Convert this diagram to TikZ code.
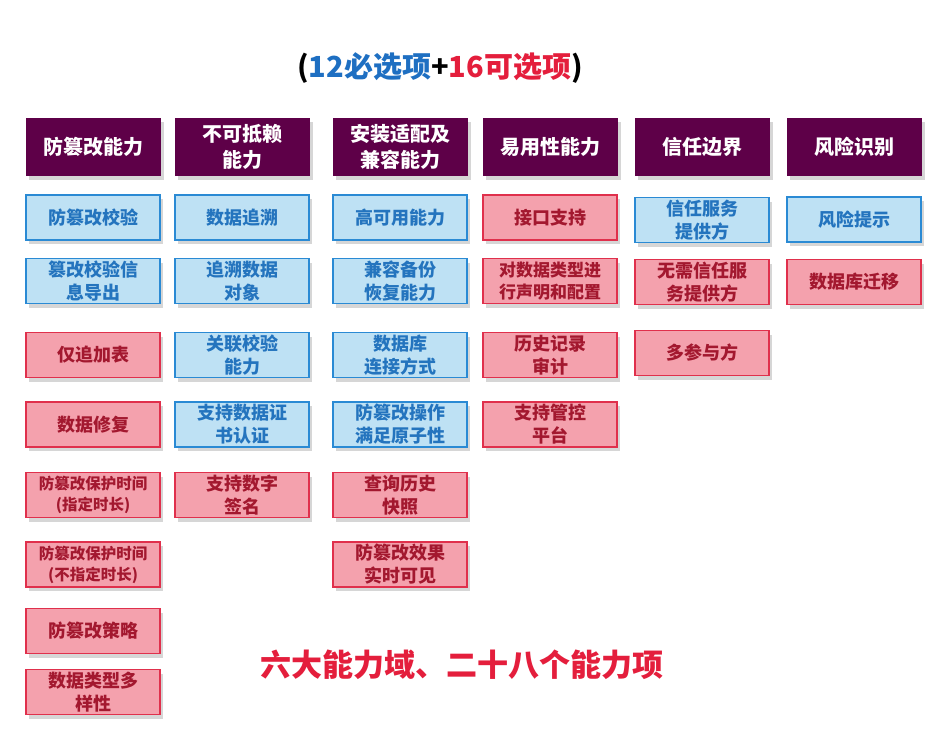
\documentclass[tikz,border=0pt]{standalone}
\usepackage{fontspec}
\setmainfont{Noto Sans CJK SC}
\usetikzlibrary{shadows}
\definecolor{hdr}{HTML}{5E0048}
\definecolor{bfill}{HTML}{BEE1F4}
\definecolor{bdraw}{HTML}{2A8AD4}
\definecolor{btext}{HTML}{2474BE}
\definecolor{rfill}{HTML}{F4A1AD}
\definecolor{rdraw}{HTML}{E0304C}
\definecolor{rtext}{HTML}{A3182F}
\definecolor{tblue}{HTML}{1E6FC2}
\definecolor{tred}{HTML}{E41E3C}
\tikzset{
  shd/.style={drop shadow={shadow xshift=3pt,shadow yshift=-4pt,fill=black!40,opacity=.4}},
  hdrbox/.style={shd,fill=hdr,draw=none,minimum width=135pt,minimum height=58pt,inner sep=1pt,
    text=white,align=center,font=\bfseries\fontsize{20}{26}\selectfont},
  bluebox/.style={shd,fill=bfill,draw=bdraw,line width=1.2pt,minimum width=134pt,minimum height=45pt,inner sep=1pt,
    text=btext,align=center,font=\bfseries\fontsize{18}{23}\selectfont},
  redbox/.style={shd,fill=rfill,draw=rdraw,line width=1.2pt,minimum width=134pt,minimum height=45pt,inner sep=1pt,
    text=rtext,align=center,font=\bfseries\fontsize{18}{23}\selectfont},
  small/.style={font=\bfseries\fontsize{15.5}{21}\selectfont},
  smallb/.style={font=\bfseries\fontsize{17}{22}\selectfont}
}
\begin{document}
\begin{tikzpicture}[x=1pt,y=1pt]
\useasboundingbox[fill=white] (0,0) rectangle (945,-733);
% title
\node[font=\bfseries\fontsize{29}{30}\selectfont,inner sep=0] (title) at (440,-68)
  {(\textcolor{tblue}{12必选项}+\textcolor{tred}{16可选项})};
% headers
\node[hdrbox] (h1) at (93,-147) {防篡改能力};
\node[hdrbox] (h2) at (242,-147) {不可抵赖\\能力};
\node[hdrbox] (h3) at (400,-147) {安装适配及\\兼容能力};
\node[hdrbox] (h4) at (550,-147) {易用性能力};
\node[hdrbox] (h5) at (702,-147) {信任边界};
\node[hdrbox] (h6) at (854,-147) {风险识别};
% column 1
\node[bluebox] (a1) at (93,-217.5) {防篡改校验};
\node[bluebox] (a2) at (93,-281) {篡改校验信\\息导出};
\node[redbox] (a3) at (93,-355) {仅追加表};
\node[redbox] (a4) at (93,-424.5) {数据修复};
\node[redbox,small] (a5) at (93,-495) {防篡改保护时间\\(指定时长)};
\node[redbox,small] (a6) at (93,-564.5) {防篡改保护时间\\(不指定时长)};
\node[redbox] (a7) at (93,-631) {防篡改策略};
\node[redbox] (a8) at (93,-692) {数据类型多\\样性};
% column 2
\node[bluebox] (b1) at (242,-217.5) {数据追溯};
\node[bluebox] (b2) at (242,-281) {追溯数据\\对象};
\node[bluebox] (b3) at (242,-355) {关联校验\\能力};
\node[bluebox] (b4) at (242,-424.5) {支持数据证\\书认证};
\node[redbox] (b5) at (242,-495) {支持数字\\签名};
% column 3
\node[bluebox] (c1) at (400,-217.5) {高可用能力};
\node[bluebox] (c2) at (400,-281) {兼容备份\\恢复能力};
\node[bluebox] (c3) at (400,-355) {数据库\\连接方式};
\node[bluebox] (c4) at (400,-424.5) {防篡改操作\\满足原子性};
\node[redbox] (c5) at (400,-495) {查询历史\\快照};
\node[redbox] (c6) at (400,-564.5) {防篡改效果\\实时可见};
% column 4
\node[redbox] (d1) at (550,-217.5) {接口支持};
\node[redbox,smallb] (d2) at (550,-281) {对数据类型进\\行声明和配置};
\node[redbox] (d3) at (550,-355) {历史记录\\审计};
\node[redbox] (d4) at (550,-424.5) {支持管控\\平台};
% column 5
\node[bluebox] (e1) at (702,-220) {信任服务\\提供方};
\node[redbox] (e2) at (702,-282) {无需信任服\\务提供方};
\node[redbox] (e3) at (702,-353) {多参与方};
% column 6
\node[bluebox] (f1) at (854,-219.5) {风险提示};
\node[redbox] (f2) at (854,-282) {数据库迁移};
% bottom text
\node[text=tred,font=\bfseries\fontsize{31}{33}\selectfont,inner sep=0] (foot) at (462,-665) {六大能力域、二十八个能力项};
\end{tikzpicture}
\end{document}
